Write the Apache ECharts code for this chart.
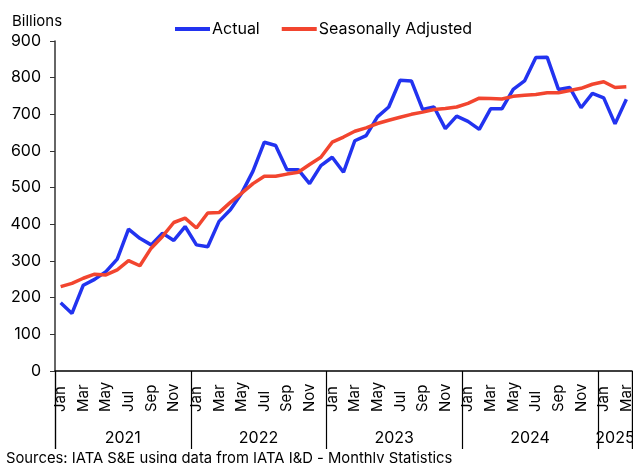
<!DOCTYPE html>
<html>
<head>
<meta charset="utf-8">
<script src="https://cdn.jsdelivr.net/npm/echarts@6/dist/echarts.min.js"></script>
<style>
  html, body { margin: 0; padding: 0; background: #fff; }
  #chart { width: 633px; height: 463px; }
</style>
</head>
<body>
<div id="chart"></div>
<script>
var monthNames = ['Jan', 'Feb', 'Mar', 'Apr', 'May', 'Jun', 'Jul', 'Aug', 'Sep', 'Oct', 'Nov', 'Dec'];
var years = ['2021', '2022', '2023', '2024', '2025'];

var actual = [
    186, 157, 234, 250, 271, 305, 387, 362, 344, 376, 356, 394,
    344, 339, 408, 440, 485, 545, 624, 615, 549, 549, 511, 560,
    583, 542, 628, 642, 693, 720, 793, 791, 713, 720, 661, 695,
    681, 659, 715, 715, 768, 791, 855, 856, 768, 773, 718, 757,
    745, 674, 741
];

var seasonallyAdjusted = [
    230, 239, 253, 264, 262, 276, 301, 287, 335, 367, 405, 417,
    390, 431, 432, 460, 485, 511, 531, 531, 537, 542, 563, 583,
    624, 638, 654, 663, 675, 684, 692, 700, 706, 713, 716, 720,
    730, 744, 743, 742, 749, 752, 754, 759, 759, 765, 771, 782,
    789, 773, 775
];

// month and year labels for each point
var months = [];
var yearOfMonth = [];
for (var i = 0; i < actual.length; i++) {
    months.push(monthNames[i % 12]);
    yearOfMonth.push(years[Math.floor(i / 12)]);
}

var font = 'Inter, "Liberation Sans", Arial, sans-serif';
var yearLabelIdx = [5, 17, 29, 41, 49];

var chart = echarts.init(document.getElementById('chart'));
chart.setOption({
    animation: false,
    textStyle: { fontFamily: font },
    grid: { left: 55, right: 1, top: 41, bottom: 92, containLabel: false, outerBoundsMode: 'none' },
    title: [{
        text: 'Billions',
        left: 7, top: 9,
        textStyle: { fontSize: 15, fontWeight: 'normal', color: '#000', fontFamily: font }
    }, {
        text: 'Sources: IATA S&E using data from IATA I&D - Monthly Statistics',
        left: 1, top: 446,
        textStyle: { fontSize: 14.8, fontWeight: 'normal', color: '#000', fontFamily: font }
    }],
    legend: {
        top: 16, left: 170,
        itemWidth: 35, itemHeight: 4, itemGap: 22,
        icon: 'rect',
        textStyle: { fontSize: 16, color: '#000', fontFamily: font, padding: [0, 0, 0, -3] },
        data: ['Actual', 'Seasonally Adjusted']
    },
    xAxis: [{
        type: 'category',
        data: months,
        boundaryGap: true,
        axisLine: { lineStyle: { color: '#000', width: 1.5 } },
        // year separators
        axisTick: {
            show: true,
            length: 78,
            interval: 11,
            lineStyle: { color: '#000', width: 1.2 }
        },
        axisLabel: {
            interval: 1, rotate: 90, align: 'left', margin: 41,
            fontSize: 15, color: '#000', fontFamily: font
        }
    }, {
        type: 'category',
        data: yearOfMonth,
        position: 'bottom',
        boundaryGap: true,
        axisLine: { show: false },
        // only start + end boundary ticks (closing separator on the right)
        axisTick: {
            show: true,
            length: 78,
            interval: 100,
            lineStyle: { color: '#000', width: 1.2 }
        },
        axisLabel: {
            interval: function (idx) { return yearLabelIdx.indexOf(idx) >= 0; },
            margin: 59,
            formatter: function (value) {
                return value === '2025' ? '{last|' + value + '}' : '{yr|' + value + '}';
            },
            rich: {
                yr: { fontSize: 16, color: '#000', fontFamily: font, padding: [0, 0, 0, 11] },
                last: { fontSize: 16, color: '#000', fontFamily: font, padding: [0, 0, 0, 0] }
            }
        }
    }],
    yAxis: {
        type: 'value',
        min: 0, max: 900, interval: 100,
        splitLine: { show: false },
        axisLine: { show: true, lineStyle: { color: '#333', width: 1.5 } },
        axisTick: { show: true, length: 5, lineStyle: { color: '#333' } },
        axisLabel: { fontSize: 16, color: '#000', margin: 14, fontFamily: font }
    },
    series: [{
        name: 'Actual',
        type: 'line',
        data: actual,
        symbol: 'none',
        color: '#2233f0',
        lineStyle: { width: 3.5, color: '#2233f0' }
    }, {
        name: 'Seasonally Adjusted',
        type: 'line',
        data: seasonallyAdjusted,
        symbol: 'none',
        color: '#f2452f',
        lineStyle: { width: 3.5, color: '#f2452f' }
    }]
});
</script>
</body>
</html>
